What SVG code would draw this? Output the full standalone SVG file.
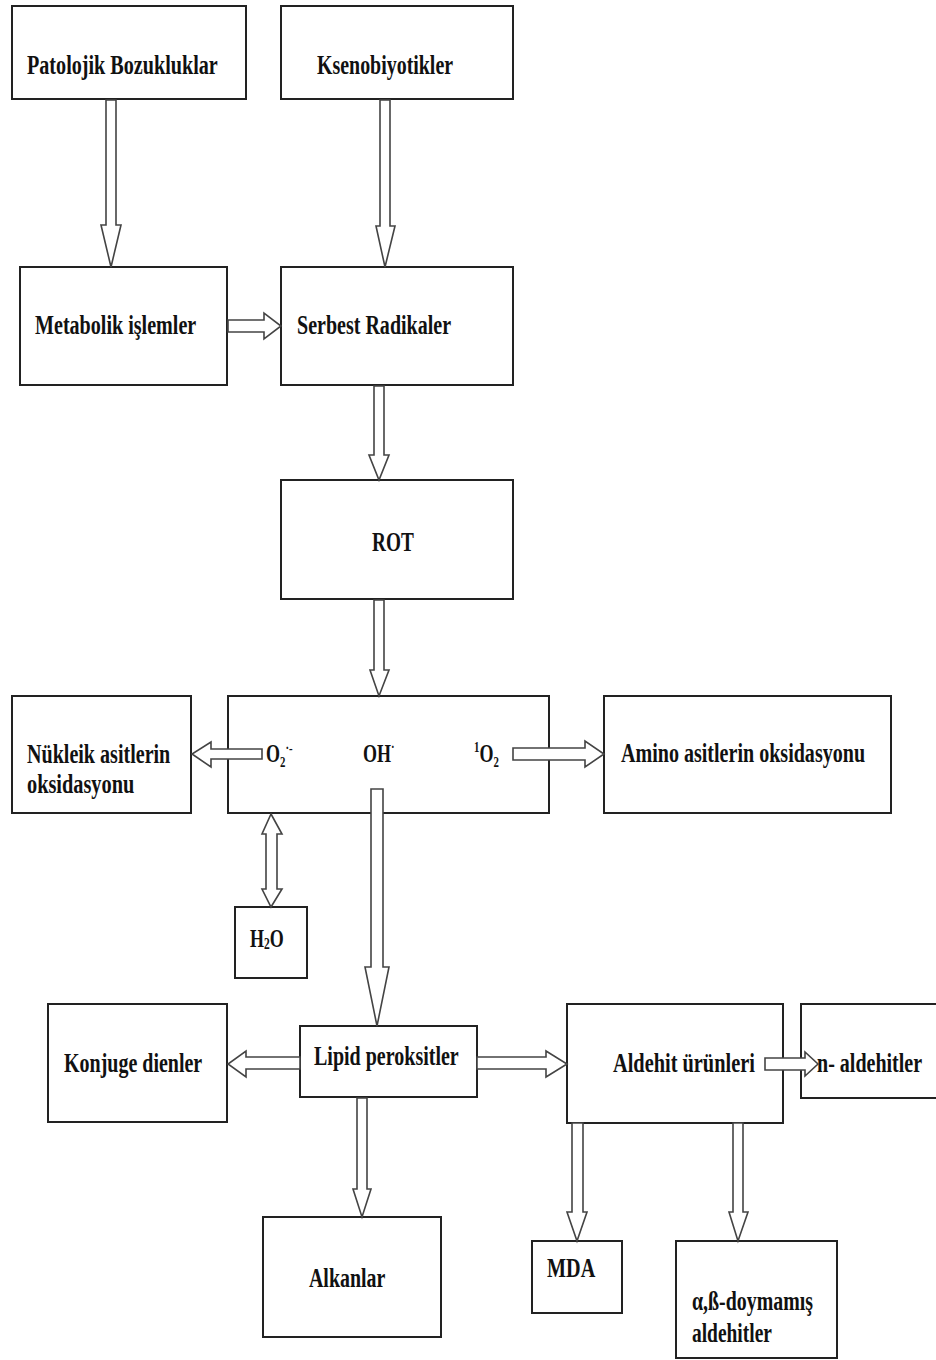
<svg xmlns="http://www.w3.org/2000/svg" width="936" height="1360" viewBox="0 0 936 1360">
<style>
.box{fill:#fff;stroke:#222;stroke-width:2}
.t{font-family:"Liberation Serif","Times New Roman",serif;font-weight:bold;font-size:27px;fill:#111}
.c{font-family:"Liberation Serif","Times New Roman",serif;font-weight:bold;font-size:25px;fill:#111}
.arr{fill:#fff;stroke:#444;stroke-width:1.6;stroke-linejoin:miter}
</style>
<rect width="936" height="1360" fill="#fff"/>
<g id="n-patolojik"><rect class="box" x="12" y="6" width="234" height="93"/><text class="t" transform="translate(27,74) scale(0.72,1)" textLength="265" lengthAdjust="spacingAndGlyphs">Patolojik Bozukluklar</text></g>
<g id="n-ksenobiyotikler"><rect class="box" x="281" y="6" width="232" height="93"/><text class="t" transform="translate(317,74) scale(0.72,1)" textLength="189" lengthAdjust="spacingAndGlyphs">Ksenobiyotikler</text></g>
<g id="n-metabolik"><rect class="box" x="20" y="267" width="207" height="118"/><text class="t" transform="translate(35,334) scale(0.72,1)" textLength="224" lengthAdjust="spacingAndGlyphs">Metabolik işlemler</text></g>
<g id="n-serbest"><rect class="box" x="281" y="267" width="232" height="118"/><text class="t" transform="translate(297,334) scale(0.72,1)" textLength="214" lengthAdjust="spacingAndGlyphs">Serbest Radikaler</text></g>
<g id="n-rot"><rect class="box" x="281" y="480" width="232" height="119"/><text class="t" transform="translate(372,551) scale(0.72,1)" textLength="58" lengthAdjust="spacingAndGlyphs">ROT</text></g>
<g id="n-nukleik"><rect class="box" x="12" y="696" width="179" height="117"/><text class="t" transform="translate(27,763) scale(0.72,1)" textLength="199" lengthAdjust="spacingAndGlyphs">Nükleik asitlerin</text><text class="t" transform="translate(27,793) scale(0.72,1)" textLength="149" lengthAdjust="spacingAndGlyphs">oksidasyonu</text></g>
<g id="n-rot-species"><rect class="box" x="228" y="696" width="321" height="117"/>
<text class="c" transform="translate(266,762) scale(0.72,1)">O<tspan font-size="15" dy="5">2</tspan><tspan font-size="15" dy="-14">·-</tspan></text>
<text class="c" transform="translate(363,762) scale(0.72,1)">OH<tspan font-size="15" dy="-10">·</tspan></text>
<text class="c" transform="translate(474,762) scale(0.72,1)"><tspan font-size="15" dy="-10">1</tspan><tspan dy="10">O</tspan><tspan font-size="15" dy="5">2</tspan></text>
</g>
<g id="n-amino"><rect class="box" x="604" y="696" width="287" height="117"/><text class="t" transform="translate(621,762) scale(0.72,1)" textLength="339" lengthAdjust="spacingAndGlyphs">Amino asitlerin oksidasyonu</text></g>
<g id="n-h2o"><rect class="box" x="235" y="907" width="72" height="71"/><text class="c" transform="translate(250,947) scale(0.72,1)">H<tspan font-size="16" dy="2">2</tspan><tspan dy="-2">O</tspan></text></g>
<g id="n-konjuge"><rect class="box" x="48" y="1004" width="179" height="118"/><text class="t" transform="translate(64,1072) scale(0.72,1)" textLength="192" lengthAdjust="spacingAndGlyphs">Konjuge dienler</text></g>
<g id="n-lipid"><rect class="box" x="300" y="1026" width="177" height="71"/><text class="t" transform="translate(314,1065) scale(0.72,1)" textLength="201" lengthAdjust="spacingAndGlyphs">Lipid peroksitler</text></g>
<g id="n-aldehit"><rect class="box" x="567" y="1004" width="216" height="119"/><text class="t" transform="translate(613,1072) scale(0.72,1)" textLength="197" lengthAdjust="spacingAndGlyphs">Aldehit ürünleri</text></g>
<g id="n-naldehit"><rect class="box" x="801" y="1004" width="140" height="94"/><text class="t" transform="translate(817,1072) scale(0.72,1)" textLength="146" lengthAdjust="spacingAndGlyphs">n- aldehitler</text></g>
<g id="n-alkanlar"><rect class="box" x="263" y="1217" width="178" height="120"/><text class="t" transform="translate(309,1287) scale(0.72,1)" textLength="106" lengthAdjust="spacingAndGlyphs">Alkanlar</text></g>
<g id="n-mda"><rect class="box" x="532" y="1241" width="90" height="72"/><text class="t" transform="translate(547,1277) scale(0.72,1)" textLength="67" lengthAdjust="spacingAndGlyphs">MDA</text></g>
<g id="n-doymamis"><rect class="box" x="676" y="1241" width="161" height="117"/><text class="t" transform="translate(692,1310) scale(0.72,1)" textLength="168" lengthAdjust="spacingAndGlyphs">α,ß-doymamış</text><text class="t" transform="translate(692,1342) scale(0.72,1)" textLength="111" lengthAdjust="spacingAndGlyphs">aldehitler</text></g>
<g id="connectors">
<polygon class="arr" points="106,100 116,100 116,225 121,225 111,267 101,225 106,225"/>
<polygon class="arr" points="380,100 390,100 390,226 395,226 385,267 376,226 380,226"/>
<polygon class="arr" points="228,320 264,320 264,313 281,326 264,339 264,332 228,332"/>
<polygon class="arr" points="374,386 384,386 384,455 389,455 379,480 369,455 374,455"/>
<polygon class="arr" points="374,600 384,600 384,670 389,670 379,696 370,670 374,670"/>
<polygon class="arr" points="262,749 211,749 211,742 192,754 211,767 211,759 262,759"/>
<polygon class="arr" points="513,748 585,748 585,741 604,754 585,767 585,760 513,760"/>
<polygon class="arr" points="371,789 383,789 383,967 389,967 377,1026 365,967 371,967"/>
<polygon class="arr" points="271,814 282,834 277,834 277,889 282,889 271,907 262,889 266,889 266,834 262,834"/>
<polygon class="arr" points="300,1057 246,1057 246,1051 228,1064 246,1077 246,1069 300,1069"/>
<polygon class="arr" points="477,1057 546,1057 546,1051 567,1064 546,1077 546,1069 477,1069"/>
<polygon class="arr" points="357,1098 367,1098 367,1189 371,1189 362,1217 353,1189 357,1189"/>
<polygon class="arr" points="765,1058 805,1058 805,1052 818,1064 805,1076 805,1070 765,1070"/>
<polygon class="arr" points="572,1123 583,1123 583,1212 587,1212 577,1241 567,1212 572,1212"/>
<polygon class="arr" points="733,1123 743,1123 743,1212 748,1212 738,1241 729,1212 733,1212"/>
</g>
</svg>
